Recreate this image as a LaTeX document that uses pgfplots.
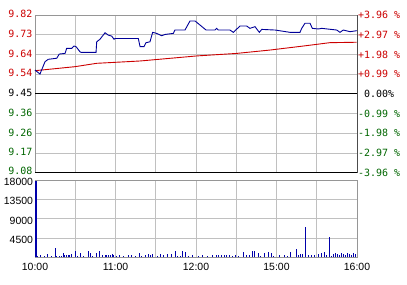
\documentclass[border=0pt]{standalone}
\usepackage{fontspec}
\setmainfont{Liberation Sans}
\newfontfamily\monofont{DejaVu Sans Mono}
\usepackage{pgfplots}
\pgfplotsset{compat=1.18}
\definecolor{lred}{RGB}{204,0,0}
\definecolor{lgreen}{RGB}{0,102,0}
\definecolor{pblue}{RGB}{0,0,153}
\definecolor{vblue}{RGB}{0,0,170}
\definecolor{gridc}{RGB}{192,192,192}
\definecolor{framec}{RGB}{150,150,150}
\begin{document}
\begin{tikzpicture}
\path[use as bounding box, fill=white] (0,0) rectangle (407bp,285bp);
% price panel
\begin{axis}[at={(35bp,112.3bp)}, anchor=south west, scale only axis,
  width=322bp, height=157.7bp,
  xmin=0, xmax=240, ymin=9.0756, ymax=9.8244,
  xtick={0,30,...,240}, xticklabels={},
  ytick={9.0756,9.1692,9.2628,9.3564,9.45,9.5436,9.6372,9.7308,9.8244},
  yticklabels={\raisebox{2.5bp}{\color{lgreen}9.08},\color{lgreen}9.17,\color{lgreen}9.26,\color{lgreen}9.36,9.45,\color{lred}9.54,\color{lred}9.64,\color{lred}9.73,\color{lred}9.82},
  yticklabel style={font=\monofont\fontsize{10}{10}\selectfont, xshift=1bp, yshift=0.8bp},
  grid=major, grid style={gridc, line width=0.8bp},
  axis line style={framec, line width=0.8bp},
  major tick length=0pt, clip=false]
\addplot[lred, line width=0.9bp] coordinates {
(0,9.560) (29.8,9.579) (46,9.595) (78.3,9.606) (120.5,9.630) (150.3,9.642) (175.2,9.658) (201.2,9.678) (219.8,9.693) (239.8,9.695)};
\addplot[pblue, line width=0.9bp] coordinates {
(0,9.563) (3.7,9.544) (7.5,9.603) (9.9,9.614) (16.2,9.619) (18.1,9.639) (22.4,9.642) (23.6,9.666) (27.4,9.666) (29.1,9.677) (30.6,9.674) (33.5,9.650) (34.3,9.647) (45.5,9.647) (46.0,9.697) (48.4,9.709) (52.2,9.740) (54.6,9.729) (57.2,9.724) (58.9,9.709) (59.6,9.713) (77.0,9.713) (78.3,9.674) (81.2,9.674) (82.7,9.693) (85.7,9.697) (87.7,9.742) (90.7,9.737) (94.4,9.726) (96.9,9.732) (103.1,9.737) (104.3,9.753) (111.8,9.753) (115.5,9.796) (119.3,9.796) (127.5,9.753) (134.2,9.753) (135.4,9.761) (136.6,9.753) (145.3,9.753) (147.8,9.742) (152.8,9.772) (157.8,9.772) (160.2,9.761) (164.0,9.769) (167.2,9.742) (169.0,9.756) (179,9.753) (190.1,9.742) (197.5,9.742) (198.8,9.761) (201.2,9.785) (205.0,9.785) (206.7,9.761) (211.2,9.758) (213.7,9.761) (224.9,9.753) (227.3,9.742) (229.8,9.753) (234.8,9.745) (239.8,9.750)};
\addplot[black, line width=1.1bp] coordinates {(0,9.45) (240,9.45)};
\addplot[black, line width=1.1bp] coordinates {(0,9.0756) (240,9.0756)};
\end{axis}
% right percent axis
\begin{axis}[at={(35bp,112.3bp)}, anchor=south west, scale only axis,
  width=322bp, height=157.7bp,
  xmin=0, xmax=240, ymin=9.0756, ymax=9.8244,
  axis x line=none, axis y line*=right,
  y axis line style={black!70, line width=0.8bp},
  ytick={9.0756,9.1692,9.2628,9.3564,9.45,9.5436,9.6372,9.7308,9.8244},
  yticklabels={\color{lgreen}-3.96 \%,\color{lgreen}-2.97 \%,\color{lgreen}-1.98 \%,\color{lgreen}-0.99 \%,\phantom{+}0.00\%,\color{lred}+0.99 \%,\color{lred}+1.98 \%,\color{lred}+2.97 \%,\color{lred}+3.96 \%},
  yticklabel style={font=\monofont\fontsize{10}{10}\selectfont, xshift=-2.5bp},
  major tick length=0pt]
\addplot[draw=none] coordinates {(0,9.45)};
\end{axis}
% volume panel
\begin{axis}[at={(35bp,27.7bp)}, anchor=south west, scale only axis,
  width=322bp, height=77.3bp,
  xmin=0, xmax=240, ymin=0, ymax=18000,
  scaled y ticks=false,
  xtick={0,30,...,240}, xticklabels={10:00,,11:00,,12:00,,15:00,,16:00},
  ytick={0,4500,9000,13500,18000}, yticklabels={,4500,9000,13500,\raisebox{-2bp}{18000}},
  ticklabel style={font=\fontsize{10.5}{10.5}\selectfont},
  yticklabel style={xshift=1.5bp, yshift=-1.8bp},
  xticklabel style={yshift=-2bp},
  grid=major, grid style={gridc, line width=0.8bp},
  axis line style={framec, line width=0.8bp},
  major tick length=0pt]
\addplot[ycomb, vblue, line width=1.6bp] coordinates {(0.6,17800)};
\addplot[ycomb, vblue, line width=0.9bp] coordinates {
(2,300) (4.2,540) (7,250) (9.5,770) (12,200) (14.9,2260) (16.2,350) (18.1,350) (19.5,300) (21,1090) (22.2,470) (23.5,470) (24.7,540) (26,580) (27.4,700) (29.8,1560) (31.5,300) (34,930) (36,250) (39.7,1560) (41.5,1090) (43,350) (46,1090) (47.9,1400) (50.6,470) (52.2,470) (53.6,540) (55.1,540) (56.6,580) (57.8,700) (58.8,470) (60.5,250) (63.3,540) (66,250) (69.5,470) (72,580) (75,300) (77.5,930) (79.5,300) (82,470) (84.3,700) (86.3,580) (87.8,770) (91,250) (93.5,700) (95.5,470) (98.5,700) (102,770) (105,1400) (106.5,400) (108.5,300) (110.2,1470) (112,1160) (114,300) (117.5,470) (121.5,300) (125,470) (128.5,300) (132,470) (135,470) (137,500) (139,470) (141,540) (143,470) (145,580) (147,300) (149.5,470) (152,300) (155.3,1310) (157.8,470) (160,580) (162,1390) (163.7,1390) (166.3,930) (168.3,300) (171,930) (173.7,1160) (176.3,930) (178,250) (182,470) (186,540) (188,300) (190.4,1160) (194.5,1940) (196.3,580) (197.5,770) (199.5,700) (201.5,6960) (203.6,470) (206,580) (208.5,540) (211,770) (213.5,930) (216,1160) (217.3,580) (219.4,4640) (221,400) (222.5,700) (224,930) (225.5,700) (227,580) (228.5,930) (230,700) (231.5,540) (233,930) (234.5,700) (236,540) (237.5,930) (239,700)};
\end{axis}
\end{tikzpicture}
\end{document}
